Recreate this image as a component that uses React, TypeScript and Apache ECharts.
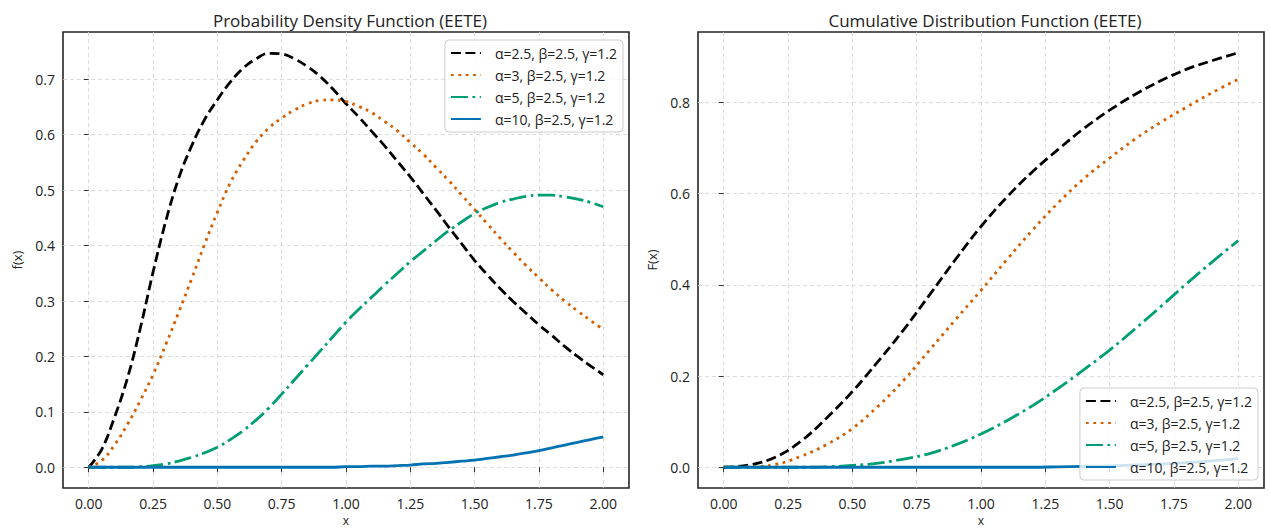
import React, { useEffect, useRef } from "react";
import * as echarts from "echarts";

const xsPdf = [0, 0.05, 0.1, 0.15, 0.2, 0.25, 0.3, 0.35, 0.4, 0.45, 0.5, 0.55, 0.6, 0.65, 0.7, 0.75, 0.8, 0.85, 0.9, 0.95, 1.0,
  1.05, 1.1, 1.15, 1.2, 1.25, 1.3, 1.35, 1.4, 1.45, 1.5, 1.55, 1.6, 1.65, 1.7, 1.75, 1.8, 1.85, 1.9, 1.95, 2.0];
const xsCdf = [0, 0.1, 0.2, 0.3, 0.4, 0.5, 0.6, 0.7, 0.8, 0.9, 1.0, 1.1, 1.2, 1.3, 1.4, 1.5, 1.6, 1.7, 1.8, 1.9, 2.0];

const seriesNames = ["α=2.5, β=2.5, γ=1.2", "α=3, β=2.5, γ=1.2", "α=5, β=2.5, γ=1.2", "α=10, β=2.5, γ=1.2"];

const pdfA25 = [0, 0.032, 0.09, 0.16, 0.25, 0.352, 0.445, 0.522, 0.58, 0.627, 0.663, 0.695, 0.72, 0.737, 0.747, 0.746, 0.737, 0.723, 0.705, 0.682, 0.656,
  0.632, 0.606, 0.58, 0.552, 0.524, 0.494, 0.464, 0.433, 0.403, 0.373, 0.347, 0.322, 0.299, 0.278, 0.257, 0.238, 0.218, 0.2, 0.183, 0.167];
const pdfA3 = [0, 0.012, 0.04, 0.077, 0.12, 0.167, 0.222, 0.28, 0.34, 0.402, 0.46, 0.513, 0.553, 0.587, 0.612, 0.63, 0.645, 0.656, 0.662, 0.663, 0.66,
  0.651, 0.64, 0.624, 0.607, 0.586, 0.565, 0.541, 0.517, 0.491, 0.465, 0.439, 0.413, 0.388, 0.364, 0.342, 0.32, 0.3, 0.282, 0.265, 0.249];
const pdfA5 = [0, 0, 0, 0, 0.001, 0.003, 0.006, 0.011, 0.018, 0.026, 0.036, 0.05, 0.066, 0.085, 0.107, 0.132, 0.158, 0.184, 0.21, 0.236, 0.262,
  0.285, 0.307, 0.329, 0.35, 0.371, 0.39, 0.409, 0.427, 0.443, 0.458, 0.469, 0.478, 0.484, 0.489, 0.491, 0.491, 0.488, 0.484, 0.478, 0.47];
const pdfA10 = [0, 0, 0, 0, 0, 0, 0, 0, 0, 0, 0, 0, 0, 0, 0, 0, 0, 0, 0, 0, 0.001,
  0.001, 0.002, 0.002, 0.003, 0.004, 0.006, 0.007, 0.009, 0.011, 0.013, 0.016, 0.019, 0.022, 0.026, 0.03, 0.035, 0.04, 0.045, 0.05, 0.055];

const cdfA25 = [0, 0.005, 0.022, 0.057, 0.108, 0.166, 0.232, 0.302, 0.378, 0.455, 0.528, 0.592, 0.648, 0.697, 0.743, 0.783, 0.818, 0.848, 0.873, 0.892, 0.909];
const cdfA3 = [0, 0.001, 0.006, 0.024, 0.05, 0.085, 0.134, 0.191, 0.257, 0.323, 0.388, 0.455, 0.52, 0.58, 0.633, 0.678, 0.72, 0.757, 0.79, 0.822, 0.851];
const cdfA5 = [0, 0, 0, 0, 0.001, 0.004, 0.009, 0.018, 0.03, 0.049, 0.073, 0.102, 0.135, 0.173, 0.214, 0.257, 0.304, 0.353, 0.403, 0.451, 0.497];
const cdfA10 = [0, 0, 0, 0, 0, 0, 0, 0, 0, 0, 0, 0, 0, 0.001, 0.002, 0.003, 0.005, 0.007, 0.01, 0.014, 0.019];

const xTicks = [0, 0.25, 0.5, 0.75, 1.0, 1.25, 1.5, 1.75, 2.0];
const pdfYTicks = [0, 0.1, 0.2, 0.3, 0.4, 0.5, 0.6, 0.7];
const cdfYTicks = [0, 0.2, 0.4, 0.6, 0.8];

const FONT = "'Open Sans', 'Noto Sans', sans-serif";
const colors = ["#000000", "#d55e00", "#009e73", "#0072b2"];
const dashes: any[] = [[10, 4.5], [2.8, 4.6], [17, 4.5, 2.8, 4.5], "solid"];

function pairs(xs: number[], vals: number[]) {
  return xs.map((x, i) => [x, vals[i]]);
}

export default function App() {
  const ref = useRef<HTMLDivElement>(null);
  useEffect(() => {
    if (!ref.current) return;
    const chart = echarts.init(ref.current, undefined, { renderer: "svg" });

    const gridStyle = {
      show: true,
      borderColor: "#262626",
      borderWidth: 1.6,
      backgroundColor: "transparent",
      containLabel: false,
      outerBoundsMode: "none",
    };
    const splitLine = { show: true, lineStyle: { color: "#d4d4d4", width: 0.8, type: [4, 3] } };
    const tick = { show: true, inside: false, length: 5, lineStyle: { color: "#333", width: 1 } };
    const label = { color: "#222", fontSize: 14, lineHeight: 14, fontFamily: FONT, margin: 8 };

    const makeX = (gridIndex: number) => ({
      type: "value",
      gridIndex,
      min: -0.1,
      max: 2.1,
      name: "x",
      nameLocation: "middle",
      nameGap: 26,
      nameMoveOverlap: false,
      nameTextStyle: { color: "#222", fontSize: 12, lineHeight: 12, fontFamily: FONT, verticalAlign: "top" },
      axisLine: { show: false },
      axisTick: { ...tick, customValues: xTicks },
      axisLabel: { ...label, margin: 8, customValues: xTicks, formatter: (v: number) => v.toFixed(2) },
      splitLine,
    });
    const makeY = (gridIndex: number, max: number, min: number, ticks: number[], name: string) => ({
      type: "value",
      gridIndex,
      min,
      max,
      name,
      nameLocation: "middle",
      nameGap: 40,
      nameMoveOverlap: false,
      nameTextStyle: { color: "#222", fontSize: 13, fontFamily: FONT },
      axisLine: { show: false },
      axisTick: { ...tick, customValues: ticks },
      axisLabel: { ...label, customValues: ticks, formatter: (v: number) => v.toFixed(1) },
      splitLine,
    });

    const pdfs = [pdfA25, pdfA3, pdfA5, pdfA10];
    const cdfs = [cdfA25, cdfA3, cdfA5, cdfA10];
    const series: any[] = [];
    const addSeries = (xs: number[], vals: number[], i: number, axis: number) => {
      series.push({
        type: "line",
        name: seriesNames[i],
        xAxisIndex: axis,
        yAxisIndex: axis,
        data: pairs(xs, vals),
        symbol: "none",
        smooth: 0.4,
        lineStyle: { color: colors[i], width: 2.8, type: dashes[i] },
        itemStyle: { color: colors[i] },
        z: 2 + i,
      });
    };
    pdfs.forEach((vals, i) => addSeries(xsPdf, vals, i, 0));
    cdfs.forEach((vals, i) => addSeries(xsCdf, vals, i, 1));

    const legendBase = {
      orient: "vertical",
      data: seriesNames,
      itemWidth: 30,
      itemHeight: 14,
      itemGap: 8,
      padding: [6, 6, 6, 5],
      backgroundColor: "rgba(255,255,255,0.8)",
      borderColor: "#cccccc",
      borderWidth: 1,
      borderRadius: 4,
      selectedMode: false,
      itemStyle: { opacity: 0 },
      textStyle: { color: "#222", fontSize: 14, lineHeight: 14, fontFamily: FONT, padding: [0, 0, 0, 9] },
      z: 10,
    };

    const titleStyle = { color: "#222", fontSize: 17, fontWeight: "normal", fontFamily: FONT };
    chart.setOption({
      animation: false,
      backgroundColor: "#ffffff",
      title: [
        { text: "Probability Density Function (EETE)", left: 345, top: 7, textAlign: "center", textStyle: titleStyle },
        { text: "Cumulative Distribution Function (EETE)", left: 980, top: 7, textAlign: "center", textStyle: titleStyle },
      ],
      grid: [
        { left: 63, top: 32, width: 566, height: 456, ...gridStyle },
        { left: 698, top: 32, width: 566, height: 456, ...gridStyle },
      ],
      xAxis: [makeX(0), makeX(1)],
      yAxis: [
        makeY(0, 0.7854, -0.0374, pdfYTicks, "f(x)"),
        makeY(1, 0.9545, -0.0455, cdfYTicks, "F(x)"),
      ],
      legend: [
        { ...legendBase, right: 647, top: 40 },
        { ...legendBase, right: 12, top: 388 },
      ],
      series,
    });
    return () => chart.dispose();
  }, []);
  return <div ref={ref} style={{ position: "absolute", left: 0, top: 0, width: 1270, height: 528 }} />;
}
